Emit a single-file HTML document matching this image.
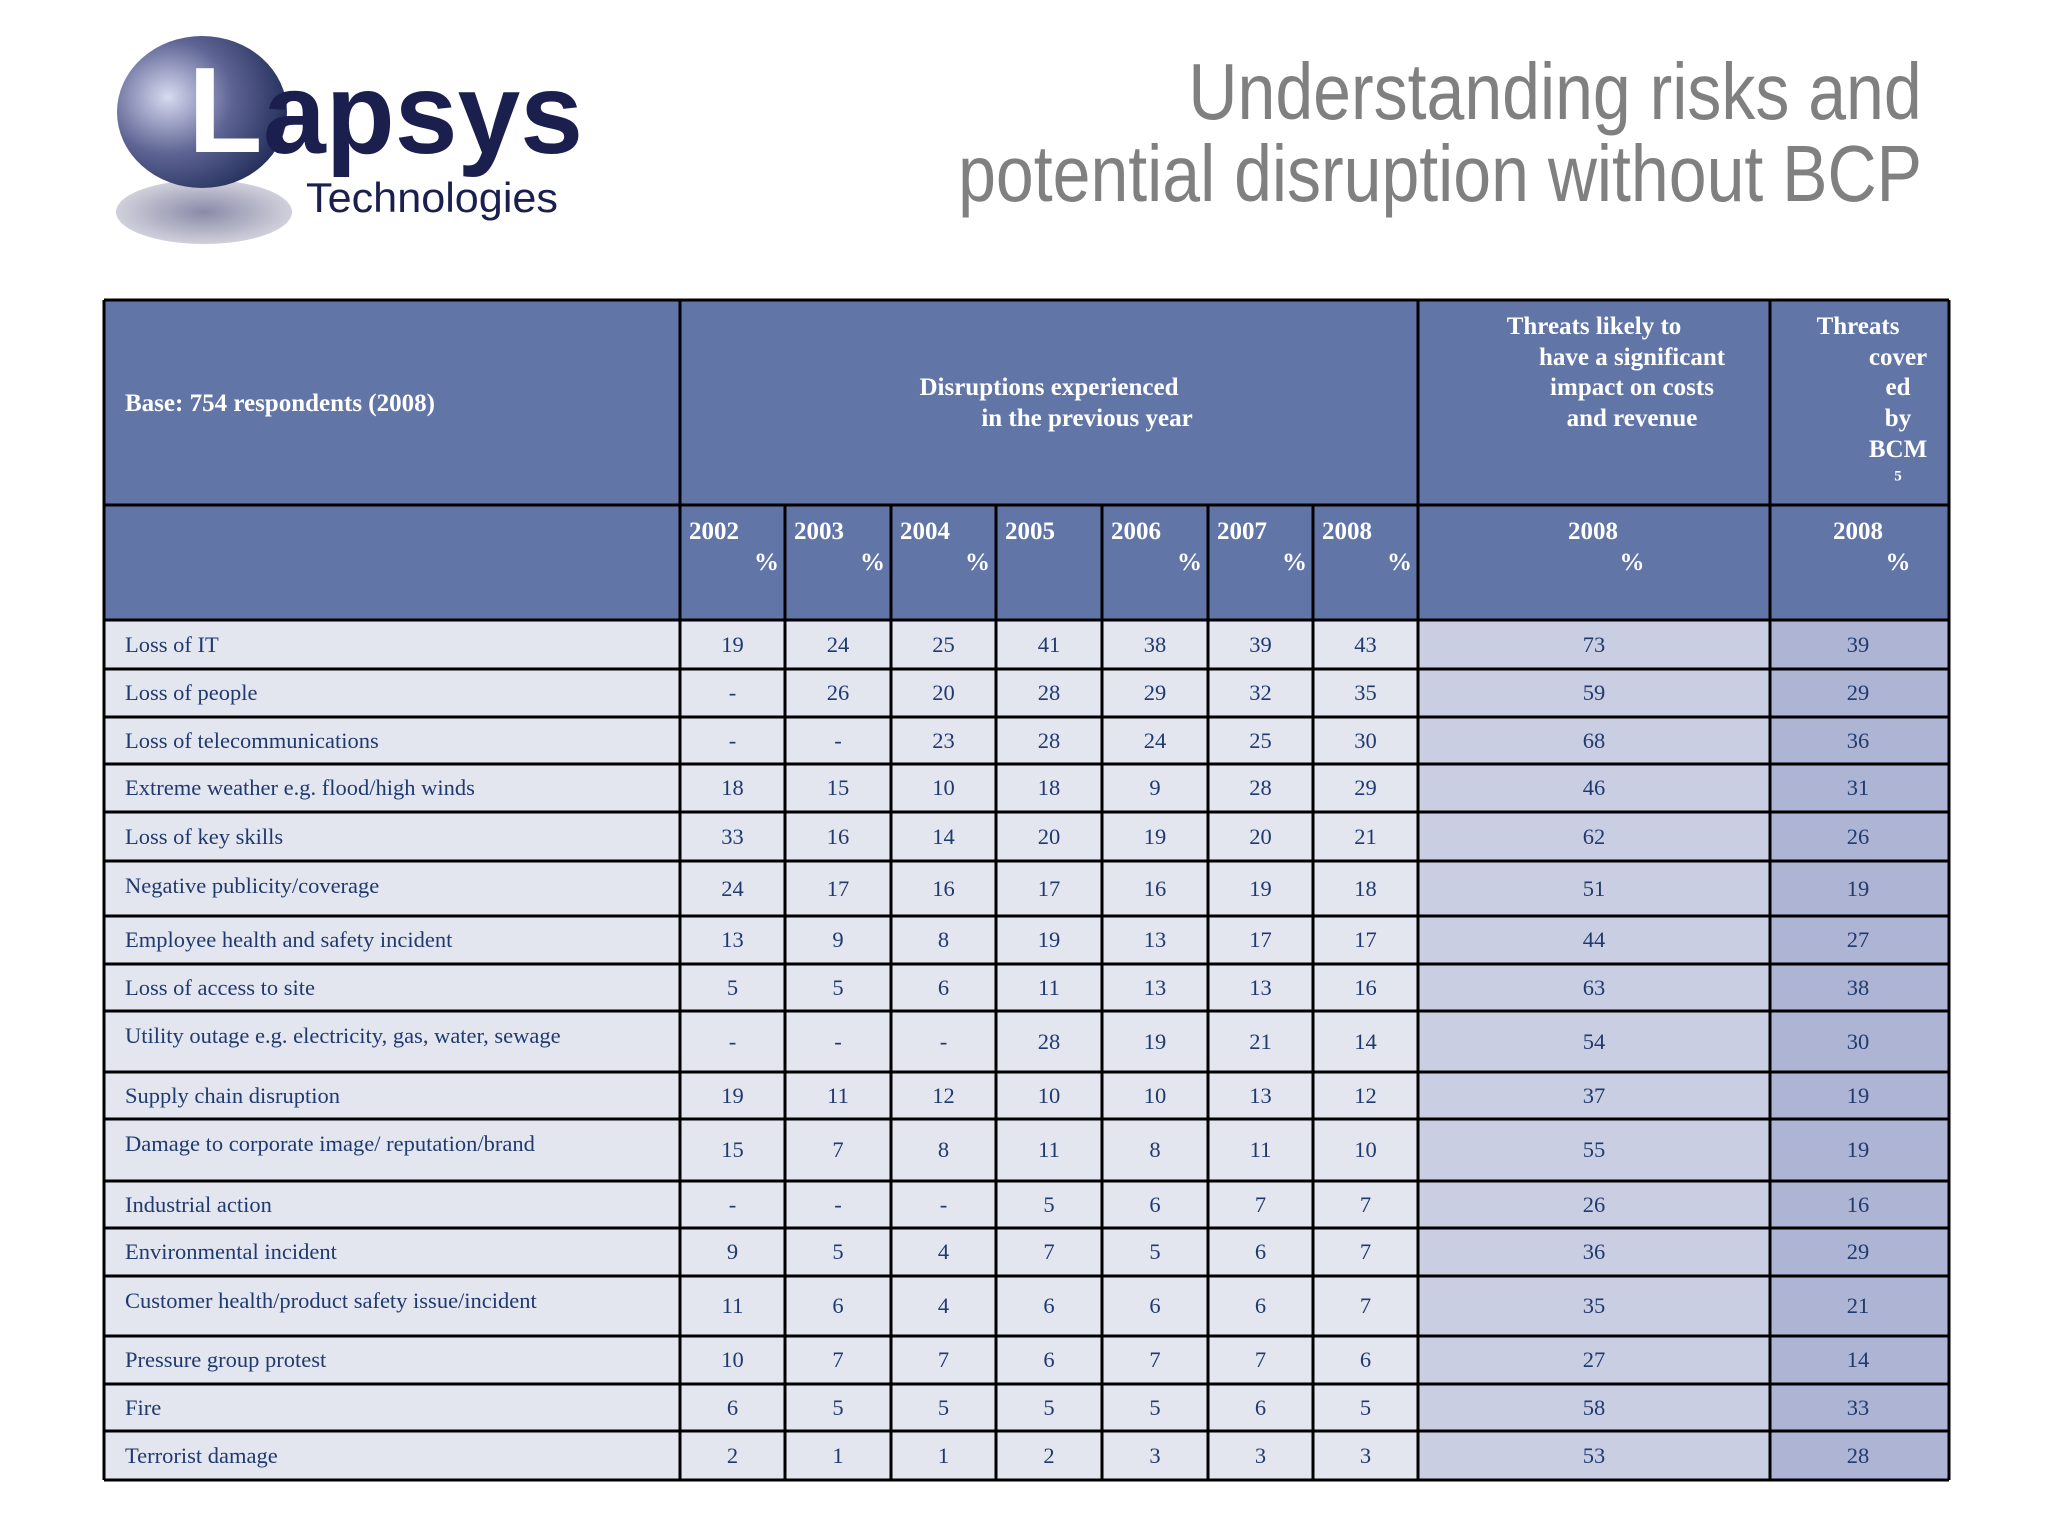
<!DOCTYPE html>
<html><head><meta charset="utf-8"><style>
body{margin:0;width:2048px;height:1536px;background:#fff;position:relative;overflow:hidden;font-family:"Liberation Serif",serif}
.a{position:absolute;white-space:nowrap}
.h{color:#fff;font-weight:bold;font-size:25px;transform:translate(-50%,-50%)}
.hl{color:#fff;font-weight:bold;font-size:25px;transform:translateY(-50%)}
.t{position:absolute;white-space:nowrap;font-family:"Liberation Sans",sans-serif;font-size:80px;right:126px;color:#808080;transform:scaleX(0.85);transform-origin:right center}
</style></head><body>
<svg class="a" style="left:100px;top:20px" width="520" height="240" viewBox="100 20 520 240">
<defs><radialGradient id="g" cx="0.3" cy="0.4" r="0.75"><stop offset="0" stop-color="#d8daf0"/><stop offset="0.5" stop-color="#5e6494"/><stop offset="1" stop-color="#1e2b55"/></radialGradient>
<radialGradient id="s" cx="0.5" cy="0.5" r="0.5"><stop offset="0" stop-color="#8a8aa8"/><stop offset="1" stop-color="#d0d0dc"/></radialGradient></defs>
<ellipse cx="204" cy="212" rx="88" ry="32" fill="url(#s)"/>
<ellipse cx="202" cy="112" rx="85" ry="76" fill="url(#g)"/>
<text x="188" y="152" font-family="Liberation Sans" font-weight="bold" font-size="122" fill="#fff">L</text>
<text x="263" y="153" font-family="Liberation Sans" font-weight="bold" font-size="115" textLength="320" lengthAdjust="spacingAndGlyphs" fill="#1b1f4e">apsys</text>
<text x="306" y="212" font-family="Liberation Sans" font-size="42" textLength="252" lengthAdjust="spacingAndGlyphs" fill="#1b1f4e">Technologies</text>
</svg>
<div class="t" style="top:46px">Understanding risks and</div>
<div class="t" style="top:128px">potential disruption without BCP</div>
<svg id="tbl" class="a" style="left:0;top:0" width="2048" height="1536"></svg>
<div id="txt"></div>
<script>
const labels=["Loss of IT","Loss of people","Loss of telecommunications","Extreme weather e.g. flood/high winds","Loss of key skills","Negative publicity/coverage","Employee health and safety incident","Loss of access to site","Utility outage e.g. electricity, gas, water, sewage","Supply chain disruption","Damage to corporate image/ reputation/brand","Industrial action","Environmental incident","Customer health/product safety issue/incident","Pressure group protest","Fire","Terrorist damage"];
const y2002=["19","-","-","18","33","24","13","5","-","19","15","-","9","11","10","6","2"];
const y2003=["24","26","-","15","16","17","9","5","-","11","7","-","5","6","7","5","1"];
const y2004=["25","20","23","10","14","16","8","6","-","12","8","-","4","4","7","5","1"];
const y2005=["41","28","28","18","20","17","19","11","28","10","11","5","7","6","6","5","2"];
const y2006=["38","29","24","9","19","16","13","13","19","10","8","6","5","6","7","5","3"];
const y2007=["39","32","25","28","20","19","17","13","21","13","11","7","6","6","7","6","3"];
const y2008=["43","35","30","29","21","18","17","16","14","12","10","7","7","7","6","5","3"];
const threat2008=["73","59","68","46","62","51","44","63","54","37","55","26","36","35","27","58","53"];
const bcm2008=["39","29","36","31","26","19","27","38","30","19","19","16","29","21","14","33","28"];
const years=["2002","2003","2004","2005","2006","2007","2008"];
const cols=[104,680,785,891,996,1102,1208,1313,1418,1770,1949];
const rowB=[620,669,717,764,812,861,916,964,1011,1072,1119,1181,1228,1276,1336,1384,1431,1480];
const svg=document.getElementById('tbl'),txt=document.getElementById('txt'),NS="http://www.w3.org/2000/svg";
function rect(x,y,w,h,f,n){const r=document.createElementNS(NS,'rect');r.setAttribute('x',x);r.setAttribute('y',y);r.setAttribute('width',w);r.setAttribute('height',h);r.setAttribute('fill',f);


svg.appendChild(r);}
function line(x1,y1,x2,y2){const l=document.createElementNS(NS,'line');l.setAttribute('x1',x1);l.setAttribute('y1',y1);l.setAttribute('x2',x2);l.setAttribute('y2',y2);l.setAttribute('stroke','#000');l.setAttribute('stroke-width','3');


svg.appendChild(l);}
function tx(s,x,y,cls,n,extra){const d=document.createElement('div');d.className='a '+cls;d.textContent=s;d.style.left=x+'px';d.style.top=y+'px';if(extra)d.style.cssText+=extra;


txt.appendChild(d);}
rect(104,300,1845,320,'#6175a7','header-background');
for(let i=0;i<labels.length;i++){const t=rowB[i],h=rowB[i+1]-t;
rect(104,t,1314,h,'#e3e5ef','row-bg');rect(1418,t,352,h,'#cacee2','threat-cell-bg');rect(1770,t,179,h,'#aeb4d4','bcm-cell-bg');}
[300,505,620].concat(rowB.slice(1)).forEach(y=>line(104,y,1949,y));
line(104,300,104,1480);line(680,300,680,1480);line(1418,300,1418,1480);line(1770,300,1770,1480);line(1949,300,1949,1480);
for(let c=2;c<=7;c++)line(cols[c],505,cols[c],1480);
tx("Base: 754 respondents (2008)",125,404,'hl','base-label');
tx("Disruptions experienced",1049,388,'h','disruptions-header');
tx("in the previous year",1087,419,'h','disruptions-header-2');
[["Threats likely to",1594,327],["have a significant",1632,358],["impact on costs",1632,388],["and revenue",1632,419]].forEach(a=>tx(a[0],a[1],a[2],'h','threats-impact-header'));
[["Threats",1858,327],["cover",1898,358],["ed",1898,388],["by",1898,419],["BCM",1898,450]].forEach(a=>tx(a[0],a[1],a[2],'h','threats-bcm-header'));
tx("5",1898,477,'h','footnote-5','font-size:15px');
years.forEach((y,i)=>{tx(y,cols[i+1]+9,532,'hl','year-header');if(y!=="2005")tx("%",cols[i+2]-6,563,'hl','percent-label','transform:translate(-100%,-50%)');});
tx("2008",1593,532,'h','threat-year-header');tx("%",1632,563,'h','percent-label');
tx("2008",1858,532,'h','bcm-year-header');tx("%",1898,563,'h','percent-label');
const series=[y2002,y2003,y2004,y2005,y2006,y2007,y2008,threat2008,bcm2008];
for(let i=0;i<labels.length;i++){const t=rowB[i],h=rowB[i+1]-t,c=(t+rowB[i+1])/2;
tx(labels[i],125,t+Math.min(h/2,25),'hl','row-label','color:#1f3a6e;font-weight:normal;font-size:22.5px');
series.forEach((s,k)=>{const cx=k<7?(cols[k+1]+cols[k+2])/2:(k==7?1594:1858);
tx(s[i],cx,c,'h','value-cell','color:#1f3a6e;font-weight:normal;font-size:22.5px');});}
</script>
</body></html>
